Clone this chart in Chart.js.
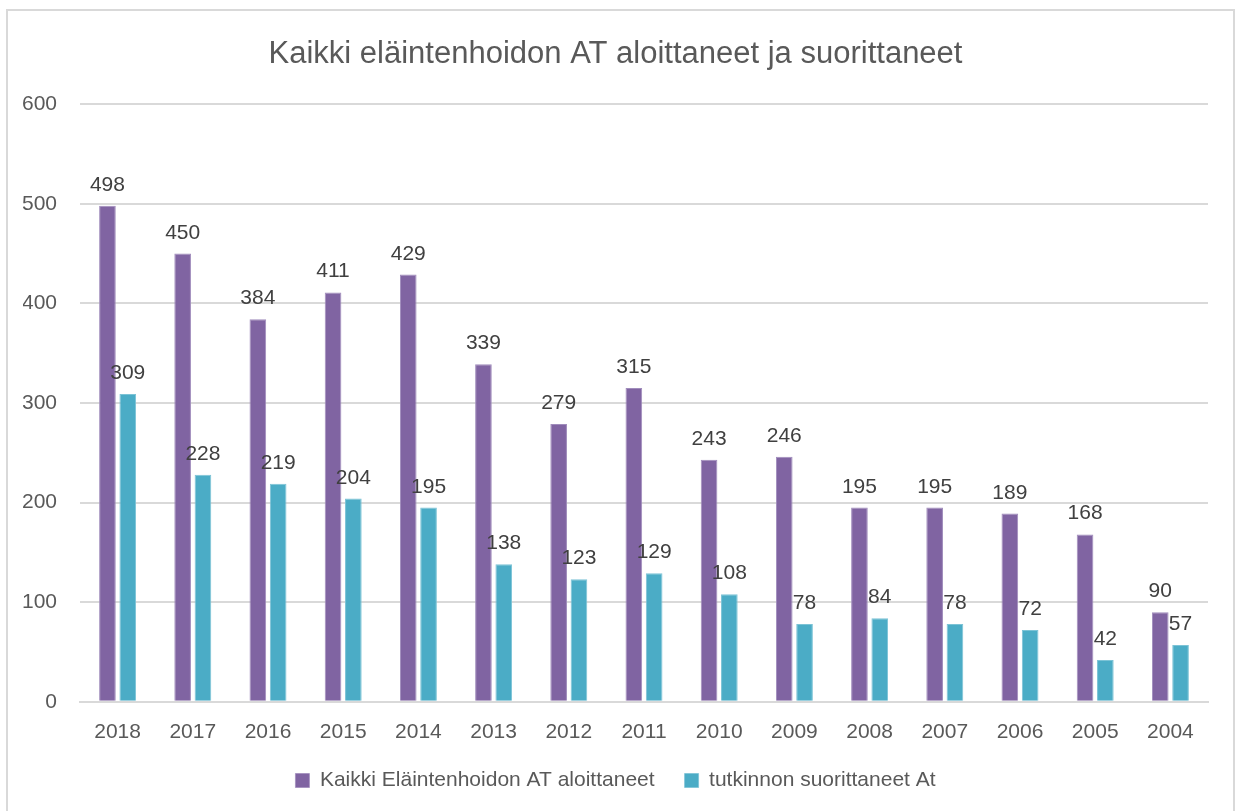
<!DOCTYPE html>
<html>
<head>
<meta charset="utf-8">
<script src="https://cdn.jsdelivr.net/npm/chart.js@4"></script>
<style>
  html, body { margin: 0; padding: 0; background: #fff; }
  #frame {
    position: absolute; left: 6px; top: 9px;
    width: 1229px; height: 810px;
    border: 2px solid #d9d9d9; border-bottom: none;
    box-sizing: border-box;
  }
  #wrap { position: absolute; left: 0; top: 0; width: 1227px; height: 801px; }
</style>
</head>
<body>
<div id="frame"><div id="wrap"><canvas id="chart"></canvas></div></div>
<script>
// values
const years = ['2018', '2017', '2016', '2015', '2014', '2013', '2012', '2011', '2010', '2009', '2008', '2007', '2006', '2005', '2004'];
const aloittaneet = [498, 450, 384, 411, 429, 339, 279, 315, 243, 246, 195, 195, 189, 168, 90];
const suorittaneet = [309, 228, 219, 204, 195, 138, 123, 129, 108, 78, 84, 78, 72, 42, 57];
const yTicks = [0, 100, 200, 300, 400, 500, 600];

const FONT = '"Liberation Sans Narrow", "Liberation Sans", Arial, sans-serif';
const TEXT = '#595959';

// numbers above each bar
const barLabels = {
    id: 'barLabels',
    afterDatasetsDraw(chart) {
        const ctx = chart.ctx;
        ctx.save();
        ctx.font = '21px ' + FONT;
        ctx.fillStyle = '#404040';
        ctx.textAlign = 'center';
        ctx.textBaseline = 'alphabetic';
        chart.data.datasets.forEach((ds, i) => {
            chart.getDatasetMeta(i).data.forEach((bar, j) => {
                ctx.fillText(ds.data[j], bar.x, bar.y - 15);
            });
        });
        ctx.restore();
    }
};

new Chart(document.getElementById('chart'), {
    type: 'bar',
    data: {
        labels: years,
        datasets: [{
            label: 'Kaikki Eläintenhoidon AT aloittaneet',
            data: aloittaneet,
            backgroundColor: '#8064a2',
            borderColor: '#a08cbc',
            borderWidth: { left: 1, right: 1, top: 1, bottom: 0 },
            categoryPercentage: 0.54,
            barPercentage: 0.82
        }, {
            label: 'tutkinnon suorittaneet At',
            data: suorittaneet,
            backgroundColor: '#4bacc6',
            borderColor: '#7cc3d6',
            borderWidth: { left: 1, right: 1, top: 1, bottom: 0 },
            categoryPercentage: 0.54,
            barPercentage: 0.82
        }]
    },
    options: {
        responsive: true,
        maintainAspectRatio: false,
        animation: false,
        layout: { padding: { left: 15, right: 27, top: 14, bottom: 11 } },
        scales: {
            x: {
                grid: { display: false },
                border: { color: '#d9d9d9', width: 2 },
                ticks: { color: TEXT, font: { family: FONT, size: 21 }, padding: 10 },
                afterFit: axis => { axis.height -= 15; }
            },
            y: {
                min: 0,
                max: 600,
                afterBuildTicks: axis => { axis.ticks = yTicks.map(v => ({ value: v })); },
                afterFit: axis => { axis.width = 57; },
                grid: { color: '#d9d9d9', lineWidth: 2, drawTicks: false },
                border: { display: false },
                ticks: { color: TEXT, font: { family: FONT, size: 21 }, padding: 23 }
            }
        },
        plugins: {
            title: {
                display: true,
                text: 'Kaikki eläintenhoidon AT aloittaneet ja suorittaneet',
                color: TEXT,
                font: { family: FONT, size: 31, weight: 'normal' },
                padding: { top: 11, bottom: 31 }
            },
            legend: {
                position: 'bottom',
                labels: {
                    color: TEXT,
                    font: { family: FONT, size: 21 },
                    boxWidth: 14,
                    boxHeight: 14,
                    padding: 30
                }
            },
            tooltip: { enabled: false }
        }
    },
    plugins: [barLabels]
});
</script>
</body>
</html>
